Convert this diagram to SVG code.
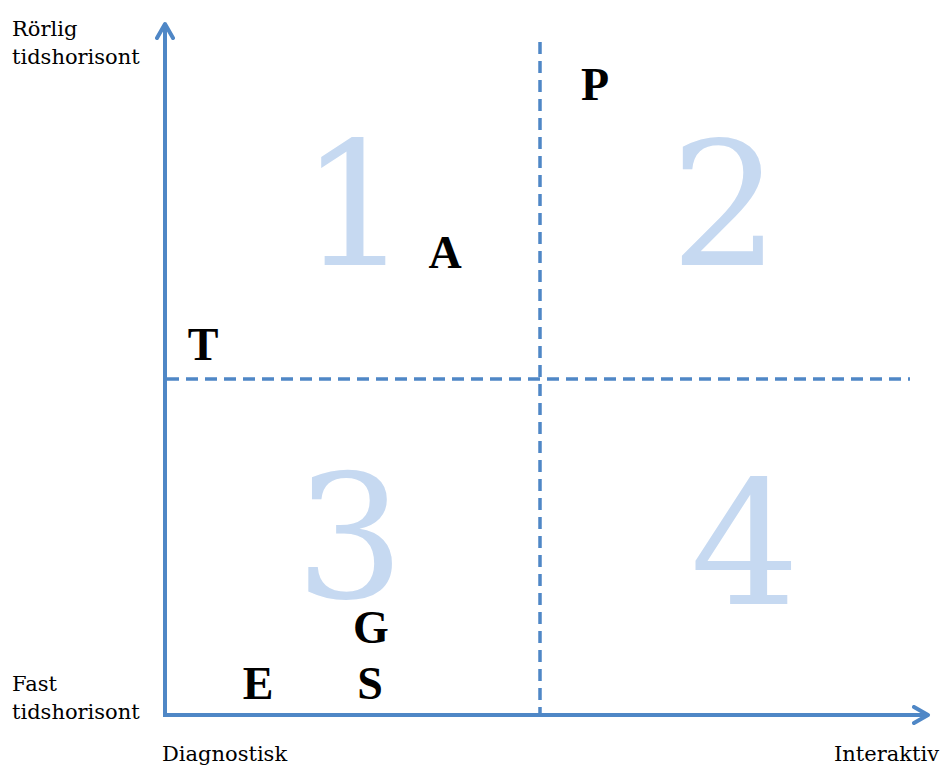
<svg xmlns="http://www.w3.org/2000/svg" width="942" height="766" viewBox="0 0 942 766">
<style>
.axis{stroke:#4f87c6;stroke-width:4;fill:none}
.dash{stroke:#4f87c6;stroke-width:3.5;fill:none;stroke-dasharray:12 7}
.big{font-family:"DejaVu Serif","Liberation Serif",serif;font-size:172px;fill:#c6d9f1;text-anchor:middle}
.let{font-family:"Liberation Serif","DejaVu Serif",serif;font-size:46px;font-weight:bold;fill:#000;text-anchor:middle}
.lab{font-family:"DejaVu Serif","Liberation Serif",serif;font-size:21px;fill:#000}
</style>
<defs>
<marker id="ah" viewBox="0 0 10 10" refX="8" refY="5" markerWidth="5" markerHeight="5" orient="auto" markerUnits="strokeWidth">
<path d="M1,1 L8,5 L1,9" fill="none" stroke="#4f87c6" stroke-width="2" stroke-linecap="round" stroke-linejoin="round"/>
</marker>
</defs>
<g id="connectors">
<line class="dash" x1="540" y1="42" x2="540" y2="715"/>
<line class="dash" x1="167" y1="379" x2="910" y2="379"/>
<line class="axis" x1="165" y1="717" x2="165" y2="24" marker-end="url(#ah)"/>
<line class="axis" x1="163" y1="715" x2="928" y2="715" marker-end="url(#ah)"/>
</g>
<g id="q1"><text class="big" x="355" y="265">1</text></g>
<g id="q2"><text class="big" x="725" y="265">2</text></g>
<g id="q3"><text class="big" x="350" y="598">3</text></g>
<g id="q4"><text class="big" x="745" y="604">4</text></g>
<g id="P"><text class="let" x="595" y="100">P</text></g>
<g id="A"><text class="let" x="445" y="268">A</text></g>
<g id="T"><text class="let" x="203" y="360">T</text></g>
<g id="G"><text class="let" x="371" y="643">G</text></g>
<g id="E"><text class="let" x="258" y="699">E</text></g>
<g id="S"><text class="let" x="370" y="699">S</text></g>
<g id="labels">
<text class="lab" x="12" y="36">Rörlig</text>
<text class="lab" x="12" y="64">tidshorisont</text>
<text class="lab" x="12" y="691">Fast</text>
<text class="lab" x="12" y="719">tidshorisont</text>
<text class="lab" x="162" y="761">Diagnostisk</text>
<text class="lab" x="834" y="761">Interaktiv</text>
</g>
</svg>
